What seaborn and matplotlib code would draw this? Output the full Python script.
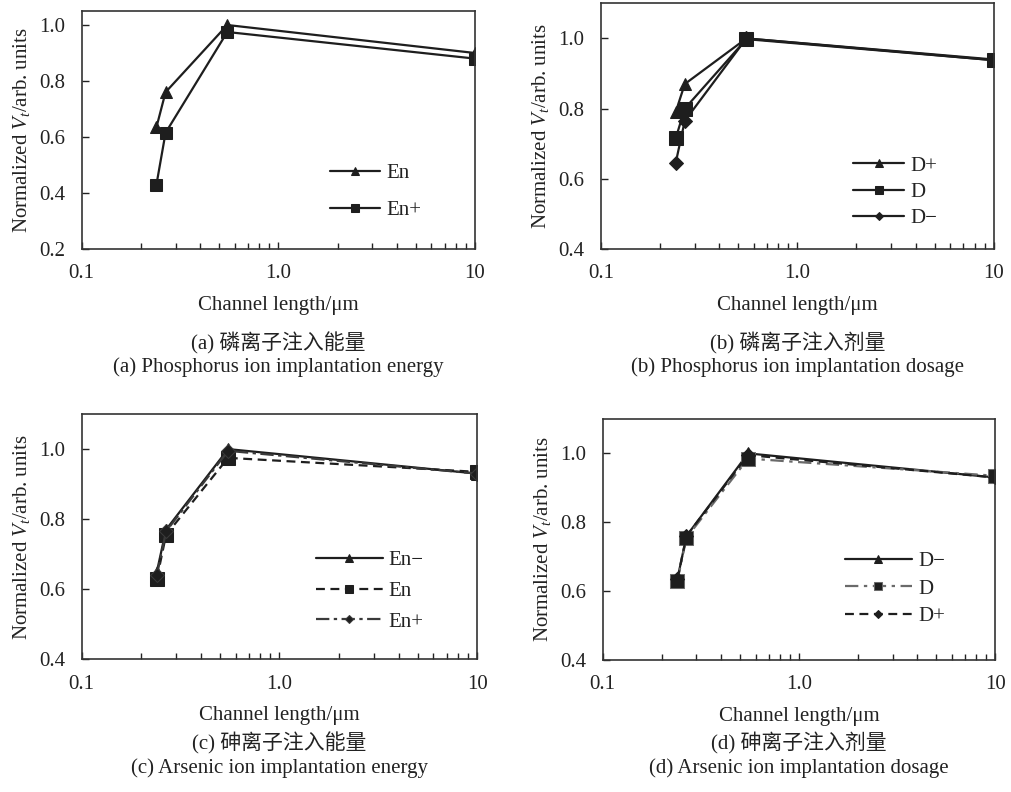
import numpy as np
import pandas as pd
import seaborn as sns
import matplotlib.pyplot as plt

# ---------- data ----------
x_len = [0.24, 0.267, 0.55, 10]

# (a) phosphorus, energy
a_En = [0.635, 0.76, 1.0, 0.90]
a_Enp = [0.43, 0.615, 0.975, 0.88]

# (b) phosphorus, dosage
b_Dp = [0.79, 0.87, 1.0, 0.94]
b_D = [0.715, 0.80, 0.998, 0.938]
b_Dm = [0.645, 0.765, 1.0, 0.938]

# (c) arsenic, energy
c_Enm = [0.65, 0.77, 1.0, 0.93]
c_En = [0.63, 0.755, 0.975, 0.935]
c_Enp = [0.64, 0.765, 0.995, 0.93]

# (d) arsenic, dosage
d_Dm = [0.635, 0.76, 1.0, 0.93]
d_D = [0.63, 0.755, 0.985, 0.935]
d_Dp = [0.635, 0.76, 0.995, 0.93]

captions_cn = ["(a) 磷离子注入能量", "(b) 磷离子注入剂量", "(c) 砷离子注入能量", "(d) 砷离子注入剂量"]
captions_en = ["(a) Phosphorus ion implantation energy", "(b) Phosphorus ion implantation dosage",
               "(c) Arsenic ion implantation energy", "(d) Arsenic ion implantation dosage"]

# ---------- style ----------
sns.set_style("ticks")
plt.rcParams["font.family"] = ["Liberation Serif", "Noto Sans CJK SC"]
plt.rcParams["mathtext.fontset"] = "custom"
plt.rcParams["mathtext.rm"] = "Liberation Serif"
plt.rcParams["mathtext.it"] = "Liberation Serif:italic"
plt.rcParams["text.color"] = "#222222"
plt.rcParams["axes.labelcolor"] = "#222222"
plt.rcParams["xtick.color"] = "#222222"
plt.rcParams["ytick.color"] = "#222222"

fig = plt.figure(figsize=(10.12, 7.92), dpi=100)

# axes boxes in figure fractions
boxes = [
    [0.0807, 0.6856, 0.3887, 0.3005],
    [0.5939, 0.6856, 0.3880, 0.3102],
    [0.0807, 0.1675, 0.3909, 0.3097],
    [0.5956, 0.1667, 0.3880, 0.3043],
]
axs = [fig.add_axes(b) for b in boxes]

dark = "#1e1e1e"


def draw(ax, y, label, marker, ls, color=dark, ms=9):
    sns.lineplot(x=x_len, y=y, ax=ax, marker=marker, markersize=ms, color=color,
                 linewidth=1.6, linestyle=ls, markeredgecolor=color,
                 markerfacecolor=dark, label=label)


draw(axs[0], a_En, "En", "^", "-")
draw(axs[0], a_Enp, "En+", "s", "-")

draw(axs[1], b_Dp, "D+", "^", "-")
draw(axs[1], b_D, "D", "s", "-", ms=10)
draw(axs[1], b_Dm, "D\u2212", "D", "-", ms=7)

draw(axs[2], c_Enm, "En\u2212", "^", "-")
draw(axs[2], c_En, "En", "s", (0, (4, 2.5)), ms=10)
draw(axs[2], c_Enp, "En+", "D", (0, (6, 2, 1.5, 2)), color="#3a3a3a", ms=7)

draw(axs[3], d_Dm, "D\u2212", "^", "-")
draw(axs[3], d_D, "D", "s", (0, (6, 2.5, 1.5, 2.5)), color="#6a6a6a", ms=10)
draw(axs[3], d_Dp, "D+", "D", (0, (4, 2.5)), ms=7)

ylims = [(0.2, 1.05), (0.4, 1.1), (0.4, 1.1), (0.4, 1.1)]
yticks = [[0.2, 0.4, 0.6, 0.8, 1.0], [0.4, 0.6, 0.8, 1.0], [0.4, 0.6, 0.8, 1.0], [0.4, 0.6, 0.8, 1.0]]

# legend placement: (x anchor, y anchor, labelspacing, handlelength)
leg_opts = [
    (0.631, 0.2395, 0.83, 2.4),
    (0.642, 0.232, 0.32, 2.45),
    (0.592, 0.278, 0.54, 3.2),
    (0.617, 0.295, 0.37, 3.2),
]

for i, ax in enumerate(axs):
    ax.set_xscale("log")
    ax.set_xlim(0.1, 10)
    ax.set_ylim(*ylims[i])
    ax.set_xticks([0.1, 1, 10])
    ax.set_xticklabels(["0.1", "1.0", "10"])
    ax.set_yticks(yticks[i])
    ax.set_yticklabels([f"{v:.1f}" for v in yticks[i]])
    ax.tick_params(axis="both", which="major", direction="in", length=5, width=1,
                   labelsize=15)
    ax.tick_params(axis="y", which="major", pad=12)
    ax.tick_params(axis="x", which="major", pad=11)
    ax.tick_params(axis="x", which="minor", direction="in", length=4, width=1)
    for sp in ax.spines.values():
        sp.set_linewidth(1.2)
        sp.set_color("#333333")
    ax.set_xlabel("Channel length/\u03bcm", fontsize=15, labelpad=9)
    ax.set_ylabel("Normalized $V_t$/arb. units", fontsize=15, labelpad=5)

    lx, ly, lsp, hl = leg_opts[i]
    ax.legend(loc="center left", bbox_to_anchor=(lx, ly), frameon=False, fontsize=15,
              borderpad=0, borderaxespad=0, labelspacing=lsp, handlelength=hl,
              handletextpad=0.3, markerscale=0.6)

# captions under each panel
cap_y = [(343, 367), (343, 367), (743, 768), (743, 768)]
for i, ax in enumerate(axs):
    b = boxes[i]
    cx = b[0] + b[2] / 2
    fig.text(cx, 1 - cap_y[i][0] / 792, captions_cn[i], ha="center", va="center", fontsize=15)
    fig.text(cx, 1 - cap_y[i][1] / 792, captions_en[i], ha="center", va="center", fontsize=15)

plt.savefig("out.png", dpi=100)
